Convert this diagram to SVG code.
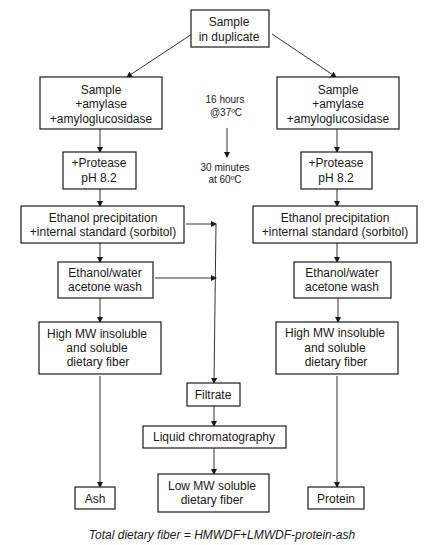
<svg xmlns="http://www.w3.org/2000/svg" width="424" height="545" viewBox="0 0 424 545">
<style>
.box{fill:#fff;stroke:#1a1a1a;stroke-width:1.2}
.t{font-family:"Liberation Sans",Arial,sans-serif;font-size:12px;fill:#1a1a1a;text-anchor:middle}
.s{font-family:"Liberation Sans",Arial,sans-serif;font-size:10px;fill:#1a1a1a;text-anchor:middle}
.ln{fill:none;stroke:#333;stroke-width:1}
.ft{font-family:"Liberation Sans",Arial,sans-serif;font-size:12px;font-style:italic;fill:#1a1a1a;text-anchor:middle}
</style>
<defs>
<marker id="ah" markerWidth="6" markerHeight="6" refX="5" refY="3" orient="auto" markerUnits="userSpaceOnUse">
<path d="M0,0 L6,3 L0,6 Z" fill="#1a1a1a"/>
</marker>
</defs>
<rect width="424" height="545" fill="#fff"/>
<g id="connectors">
<line class="ln" x1="192" y1="34" x2="127" y2="77" marker-end="url(#ah)"/>
<line class="ln" x1="272" y1="34" x2="336" y2="77" marker-end="url(#ah)"/>
<line class="ln" x1="100" y1="129" x2="100" y2="152" marker-end="url(#ah)"/>
<line class="ln" x1="337" y1="129" x2="337" y2="152" marker-end="url(#ah)"/>
<line class="ln" x1="227" y1="128" x2="227" y2="157" marker-end="url(#ah)"/>
<line class="ln" x1="100" y1="189" x2="100" y2="206" marker-end="url(#ah)"/>
<line class="ln" x1="337" y1="189" x2="337" y2="206" marker-end="url(#ah)"/>
<line class="ln" x1="186" y1="224" x2="216" y2="224" marker-end="url(#ah)"/>
<line class="ln" x1="216" y1="224" x2="214" y2="383" marker-end="url(#ah)"/>
<line class="ln" x1="100" y1="243" x2="100" y2="262" marker-end="url(#ah)"/>
<line class="ln" x1="337" y1="243" x2="337" y2="262" marker-end="url(#ah)"/>
<line class="ln" x1="155" y1="278" x2="216" y2="278" marker-end="url(#ah)"/>
<line class="ln" x1="100" y1="298" x2="100" y2="322" marker-end="url(#ah)"/>
<line class="ln" x1="338" y1="298" x2="338" y2="322" marker-end="url(#ah)"/>
<line class="ln" x1="100" y1="376" x2="100" y2="487" marker-end="url(#ah)"/>
<line class="ln" x1="337" y1="376" x2="337" y2="487" marker-end="url(#ah)"/>
<line class="ln" x1="214" y1="406" x2="214" y2="426" marker-end="url(#ah)"/>
<line class="ln" x1="214" y1="448" x2="214" y2="474" marker-end="url(#ah)"/>
</g>
<g id="top"><rect class="box" x="191" y="10" width="78" height="37"/><text class="t" x="229" y="26">Sample</text><text class="t" x="229" y="41">in duplicate</text></g>
<g id="amyL"><rect class="box" x="40" y="77" width="122" height="52"/><text class="t" x="101" y="94">Sample</text><text class="t" x="101" y="108">+amylase</text><text class="t" x="101" y="123">+amyloglucosidase</text></g>
<g id="amyR"><rect class="box" x="277" y="77" width="122" height="52"/><text class="t" x="338" y="94">Sample</text><text class="t" x="338" y="108">+amylase</text><text class="t" x="338" y="123">+amyloglucosidase</text></g>
<g id="note1"><text class="s" x="225" y="103">16 hours</text><text class="s" x="226" y="116">@37ºC</text></g>
<g id="note2"><text class="s" x="225" y="171">30 minutes</text><text class="s" x="225" y="183">at 60ºC</text></g>
<g id="protL"><rect class="box" x="63" y="152" width="73" height="37"/><text class="t" x="99" y="167">+Protease</text><text class="t" x="99" y="182">pH 8.2</text></g>
<g id="protR"><rect class="box" x="301" y="152" width="71" height="37"/><text class="t" x="336" y="167">+Protease</text><text class="t" x="336" y="182">pH 8.2</text></g>
<g id="ethL"><rect class="box" x="21" y="206" width="163" height="37"/><text class="t" x="103" y="222">Ethanol precipitation</text><text class="t" x="103" y="236">+internal standard (sorbitol)</text></g>
<g id="ethR"><rect class="box" x="253" y="206" width="164" height="37"/><text class="t" x="335" y="222">Ethanol precipitation</text><text class="t" x="335" y="236">+internal standard (sorbitol)</text></g>
<g id="washL"><rect class="box" x="58" y="262" width="95" height="36"/><text class="t" x="105" y="277">Ethanol/water</text><text class="t" x="105" y="291">acetone wash</text></g>
<g id="washR"><rect class="box" x="294" y="262" width="97" height="36"/><text class="t" x="342" y="277">Ethanol/water</text><text class="t" x="342" y="291">acetone wash</text></g>
<g id="hmwL"><rect class="box" x="39" y="322" width="122" height="52"/><text class="t" x="97" y="338">High MW insoluble</text><text class="t" x="97" y="352">and soluble</text><text class="t" x="98" y="366">dietary fiber</text></g>
<g id="hmwR"><rect class="box" x="276" y="322" width="122" height="52"/><text class="t" x="335" y="337">High MW insoluble</text><text class="t" x="335" y="352">and soluble</text><text class="t" x="336" y="366">dietary fiber</text></g>
<g id="filtrate"><rect class="box" x="187" y="383" width="53" height="23"/><text class="t" x="213" y="399">Filtrate</text></g>
<g id="lc"><rect class="box" x="143" y="426" width="143" height="22"/><text class="t" x="214" y="441">Liquid chromatography</text></g>
<g id="ash"><rect class="box" x="75" y="487" width="40" height="22"/><text class="t" x="95" y="503">Ash</text></g>
<g id="lmw"><rect class="box" x="158" y="474" width="111" height="38"/><text class="t" x="212" y="490">Low MW soluble</text><text class="t" x="212" y="504">dietary fiber</text></g>
<g id="protein"><rect class="box" x="308" y="487" width="56" height="22"/><text class="t" x="336" y="503">Protein</text></g>
<text class="ft" x="222" y="539">Total dietary fiber = HMWDF+LMWDF-protein-ash</text>
</svg>
